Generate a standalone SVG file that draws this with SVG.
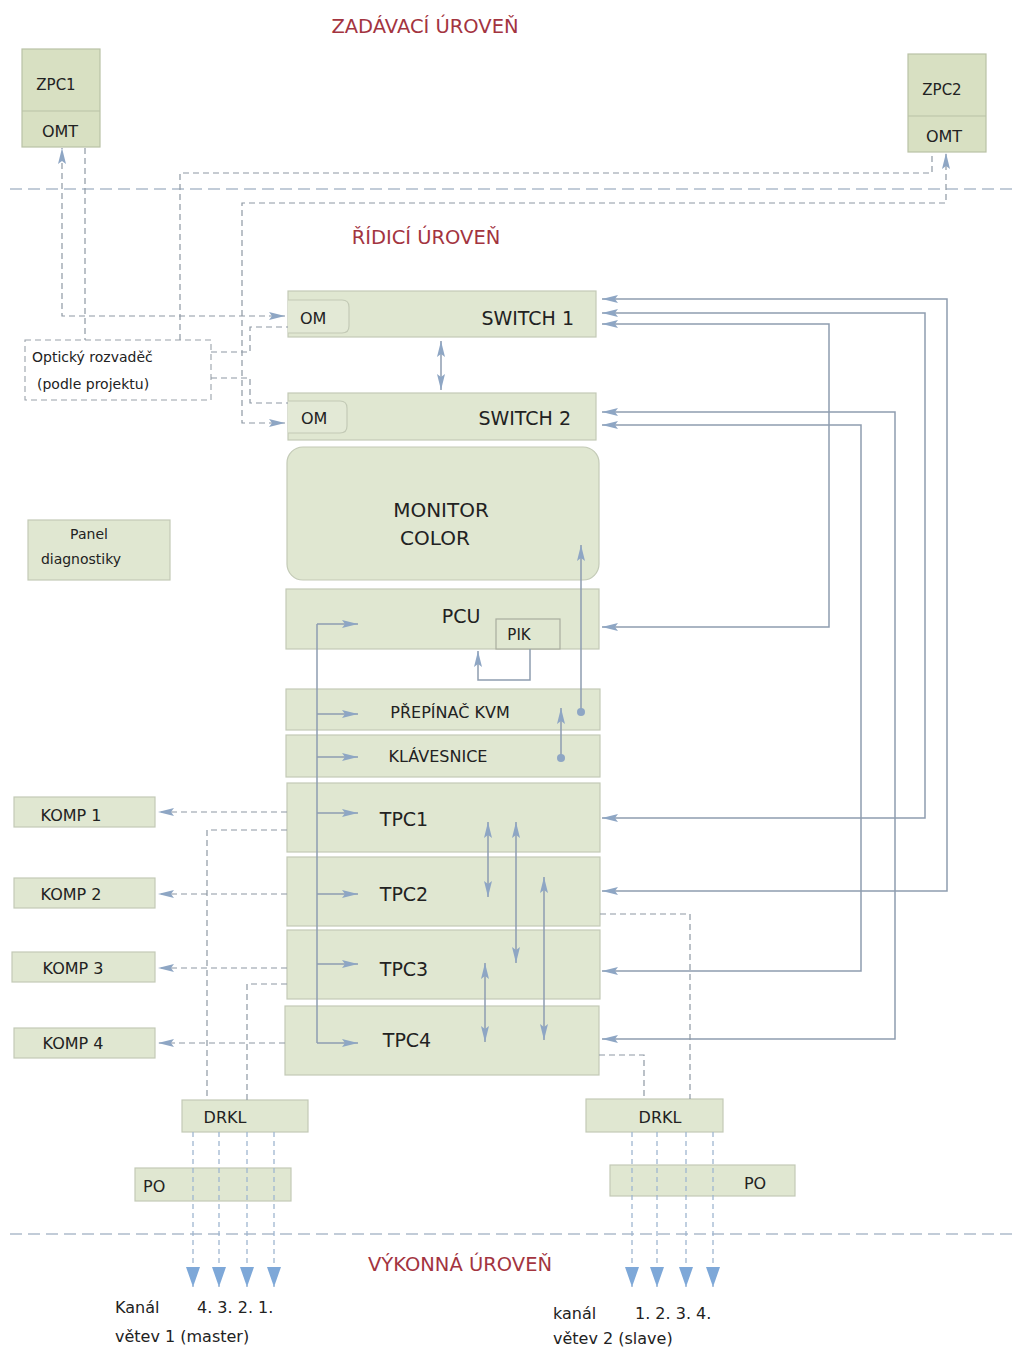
<svg xmlns="http://www.w3.org/2000/svg" width="1013" height="1349" viewBox="0 0 1013 1349">
<defs>
<style>
text{font-family:"DejaVu Sans","Liberation Sans",sans-serif;fill:#222}
.t20{font-size:20px}
.t19{font-size:19px}
.t16{font-size:16px}
.t15{font-size:15px}
.t14{font-size:14px}
.red{font-size:19.5px;fill:#a3343f}
.box{fill:#e0e7d1;stroke:#c3cab6;stroke-width:1.2}
.zbox{fill:#d8e0c2;stroke:#b9c2a6;stroke-width:1.2}
.sol{fill:none;stroke:#8e9db0;stroke-width:1.5}
.dsh{fill:none;stroke:#8e98a3;stroke-width:1.2;stroke-dasharray:6 4}
.dbl{fill:none;stroke:#9fb6d0;stroke-width:1.3;stroke-dasharray:5 4}
.sep{fill:none;stroke:#aebccc;stroke-width:1.3;stroke-dasharray:12 6}
</style>
<marker id="ah" viewBox="0 0 16 10" refX="16" refY="5" markerWidth="16" markerHeight="10" markerUnits="userSpaceOnUse" orient="auto-start-reverse">
<path d="M0,1 L16,5 L0,9 L3,5 Z" fill="#8ea6c4"/>
</marker>
<marker id="big" viewBox="0 0 20 14" refX="20" refY="7" markerWidth="20" markerHeight="14" markerUnits="userSpaceOnUse" orient="auto">
<path d="M0,0 L20,7 L0,14 Z" fill="#7ea8d8"/>
</marker>
</defs>
<rect width="1013" height="1349" fill="#ffffff"/>

<g id="titles">
<text class="red" x="425" y="33" text-anchor="middle">ZADÁVACÍ ÚROVEŇ</text>
<text class="red" x="426" y="244" text-anchor="middle">ŘÍDICÍ ÚROVEŇ</text>
<text class="red" x="460" y="1271" text-anchor="middle">VÝKONNÁ ÚROVEŇ</text>
</g>

<g id="separators">
<path class="sep" d="M10,189 H1013"/>
<path class="sep" d="M10,1234 H1013"/>
</g>

<g id="zpc1">
<rect class="zbox" x="22" y="49" width="78" height="98"/>
<line x1="22" y1="111" x2="100" y2="111" stroke="#b9c2a6"/>
<text class="t15" x="56" y="90" text-anchor="middle">ZPC1</text>
<text class="t16" x="60" y="137" text-anchor="middle">OMT</text>
</g>
<g id="zpc2">
<rect class="zbox" x="908" y="54" width="78" height="98"/>
<line x1="908" y1="116" x2="986" y2="116" stroke="#b9c2a6"/>
<text class="t15" x="942" y="95" text-anchor="middle">ZPC2</text>
<text class="t16" x="944" y="142" text-anchor="middle">OMT</text>
</g>

<g id="opticky">
<rect x="25" y="340" width="186" height="60" fill="#fff" stroke="#9aa2aa" stroke-width="1.1" stroke-dasharray="6 4"/>
<text class="t14" x="32" y="362">Optický rozvaděč</text>
<text class="t14" x="37" y="389">(podle projektu)</text>
</g>

<g id="switch1">
<rect class="box" x="288" y="291" width="308" height="46"/>
<path d="M288,300 H342 Q349,300 349,307 V326 Q349,333 342,333 H288" fill="#e3e9d6" stroke="#c3cab6" stroke-width="1.2"/>
<text class="t16" x="300" y="324">OM</text>
<text class="t19" x="574" y="325" text-anchor="end">SWITCH 1</text>
</g>
<g id="switch2">
<rect class="box" x="288" y="393" width="308" height="47"/>
<path d="M288,401 H340 Q347,401 347,408 V426 Q347,433 340,433 H288" fill="#e3e9d6" stroke="#c3cab6" stroke-width="1.2"/>
<text class="t16" x="301" y="424">OM</text>
<text class="t19" x="571" y="425" text-anchor="end">SWITCH 2</text>
</g>

<g id="monitor">
<rect class="box" x="287" y="447" width="312" height="133" rx="16" ry="16"/>
<text class="t20" x="441" y="517" text-anchor="middle">MONITOR</text>
<text class="t20" x="435" y="545" text-anchor="middle">COLOR</text>
</g>

<g id="pcu">
<rect class="box" x="286" y="589" width="313" height="60"/>
<text class="t19" x="461" y="623" text-anchor="middle">PCU</text>
</g>
<g id="pik">
<rect x="496" y="619" width="64" height="30" fill="#e0e7d1" stroke="#a8ad9e" stroke-width="1.2"/>
<text class="t15" x="519" y="640" text-anchor="middle">PIK</text>
</g>

<g id="panel">
<rect class="box" x="28" y="520" width="142" height="60"/>
<text class="t14" x="89" y="539" text-anchor="middle">Panel</text>
<text class="t14" x="81" y="564" text-anchor="middle">diagnostiky</text>
</g>

<g id="kvm">
<rect class="box" x="286" y="689" width="314" height="41"/>
<text class="t16" x="450" y="718" text-anchor="middle">PŘEPÍNAČ KVM</text>
</g>
<g id="klavesnice">
<rect class="box" x="286" y="735" width="314" height="42"/>
<text class="t16" x="438" y="762" text-anchor="middle">KLÁVESNICE</text>
</g>

<g id="tpc1">
<rect class="box" x="287" y="783" width="313" height="69"/>
<text class="t19" x="404" y="826" text-anchor="middle">TPC1</text>
</g>
<g id="tpc2">
<rect class="box" x="287" y="857" width="313" height="69"/>
<text class="t19" x="404" y="901" text-anchor="middle">TPC2</text>
</g>
<g id="tpc3">
<rect class="box" x="287" y="930" width="313" height="69"/>
<text class="t19" x="404" y="976" text-anchor="middle">TPC3</text>
</g>
<g id="tpc4">
<rect class="box" x="285" y="1006" width="314" height="69"/>
<text class="t19" x="407" y="1047" text-anchor="middle">TPC4</text>
</g>

<g id="komp1"><rect class="box" x="14" y="797" width="141" height="30"/><text class="t16" x="71" y="821" text-anchor="middle">KOMP 1</text></g>
<g id="komp2"><rect class="box" x="14" y="878" width="141" height="30"/><text class="t16" x="71" y="900" text-anchor="middle">KOMP 2</text></g>
<g id="komp3"><rect class="box" x="12" y="952" width="143" height="30"/><text class="t16" x="73" y="974" text-anchor="middle">KOMP 3</text></g>
<g id="komp4"><rect class="box" x="14" y="1028" width="141" height="30"/><text class="t16" x="73" y="1049" text-anchor="middle">KOMP 4</text></g>

<g id="drkl1"><rect class="box" x="182" y="1100" width="126" height="32"/><text class="t16" x="225" y="1123" text-anchor="middle">DRKL</text></g>
<g id="po1"><rect class="box" x="135" y="1168" width="156" height="33"/><text class="t16" x="143" y="1192">PO</text></g>
<g id="drkl2"><rect class="box" x="586" y="1099" width="137" height="33"/><text class="t16" x="660" y="1123" text-anchor="middle">DRKL</text></g>
<g id="po2"><rect class="box" x="610" y="1165" width="185" height="31"/><text class="t16" x="755" y="1189" text-anchor="middle">PO</text></g>

<g id="connectors">
<path class="sol" d="M602,891 H947 V299 H602" marker-start="url(#ah)" marker-end="url(#ah)"/>
<path class="sol" d="M602,818 H925 V313 H602" marker-start="url(#ah)" marker-end="url(#ah)"/>
<path class="sol" d="M602,627 H829 V324 H602" marker-start="url(#ah)" marker-end="url(#ah)"/>
<path class="sol" d="M602,1039 H895 V412 H602" marker-start="url(#ah)" marker-end="url(#ah)"/>
<path class="sol" d="M602,971 H861 V425 H602" marker-start="url(#ah)" marker-end="url(#ah)"/>
<path class="sol" d="M441,341 V390" marker-start="url(#ah)" marker-end="url(#ah)"/>
<path class="sol" d="M530,649 V680 H478 V651" marker-end="url(#ah)"/>
<path class="sol" d="M581,712 V545" marker-end="url(#ah)"/>
<circle cx="581" cy="712" r="4" fill="#8ea6c4"/>
<path class="sol" d="M561,758 V708" marker-end="url(#ah)"/>
<circle cx="561" cy="758" r="4" fill="#8ea6c4"/>
<path class="sol" d="M317,624 V1043"/>
<path class="sol" d="M317,624 H358" marker-end="url(#ah)"/>
<path class="sol" d="M317,714 H358" marker-end="url(#ah)"/>
<path class="sol" d="M317,757 H358" marker-end="url(#ah)"/>
<path class="sol" d="M317,813 H358" marker-end="url(#ah)"/>
<path class="sol" d="M317,894 H358" marker-end="url(#ah)"/>
<path class="sol" d="M317,964 H358" marker-end="url(#ah)"/>
<path class="sol" d="M317,1043 H358" marker-end="url(#ah)"/>
<path class="sol" d="M488,822 V897" marker-start="url(#ah)" marker-end="url(#ah)"/>
<path class="sol" d="M516,822 V963" marker-start="url(#ah)" marker-end="url(#ah)"/>
<path class="sol" d="M544,877 V1040" marker-start="url(#ah)" marker-end="url(#ah)"/>
<path class="sol" d="M485,963 V1042" marker-start="url(#ah)" marker-end="url(#ah)"/>
<path class="dsh" d="M285,316 H62 V148" marker-start="url(#ah)" marker-end="url(#ah)"/>
<path class="dsh" d="M85,148 V340"/>
<path class="dsh" d="M180,340 V173 H932 V153"/>
<path class="dsh" d="M285,423 H242 V203 H946 V153" marker-start="url(#ah)" marker-end="url(#ah)"/>
<path class="dsh" d="M211,352 H250 V327 H288"/>
<path class="dsh" d="M211,378 H250 V403 H288"/>
<path class="dsh" d="M287,812 H158" marker-end="url(#ah)"/>
<path class="dsh" d="M287,894 H158" marker-end="url(#ah)"/>
<path class="dsh" d="M287,968 H158" marker-end="url(#ah)"/>
<path class="dsh" d="M285,1043 H158" marker-end="url(#ah)"/>
<path class="dsh" d="M287,830 H207 V1100"/>
<path class="dsh" d="M287,984 H247 V1100"/>
<path class="dsh" d="M600,914 H690 V1099"/>
<path class="dsh" d="M599,1055 H644 V1099"/>
<path class="dbl" d="M193,1132 V1287" marker-end="url(#big)"/>
<path class="dbl" d="M219,1132 V1287" marker-end="url(#big)"/>
<path class="dbl" d="M247,1132 V1287" marker-end="url(#big)"/>
<path class="dbl" d="M274,1132 V1287" marker-end="url(#big)"/>
<path class="dbl" d="M632,1132 V1287" marker-end="url(#big)"/>
<path class="dbl" d="M657,1132 V1287" marker-end="url(#big)"/>
<path class="dbl" d="M686,1132 V1287" marker-end="url(#big)"/>
<path class="dbl" d="M713,1132 V1287" marker-end="url(#big)"/>
</g>

<g id="labels">
<text class="t16" x="115" y="1313">Kanál</text>
<text class="t16" x="197" y="1313">4. 3. 2. 1.</text>
<text class="t16" x="115" y="1342">větev 1 (master)</text>
<text class="t16" x="553" y="1319">kanál</text>
<text class="t16" x="635" y="1319">1. 2. 3. 4.</text>
<text class="t16" x="553" y="1344">větev 2 (slave)</text>
</g>
</svg>
